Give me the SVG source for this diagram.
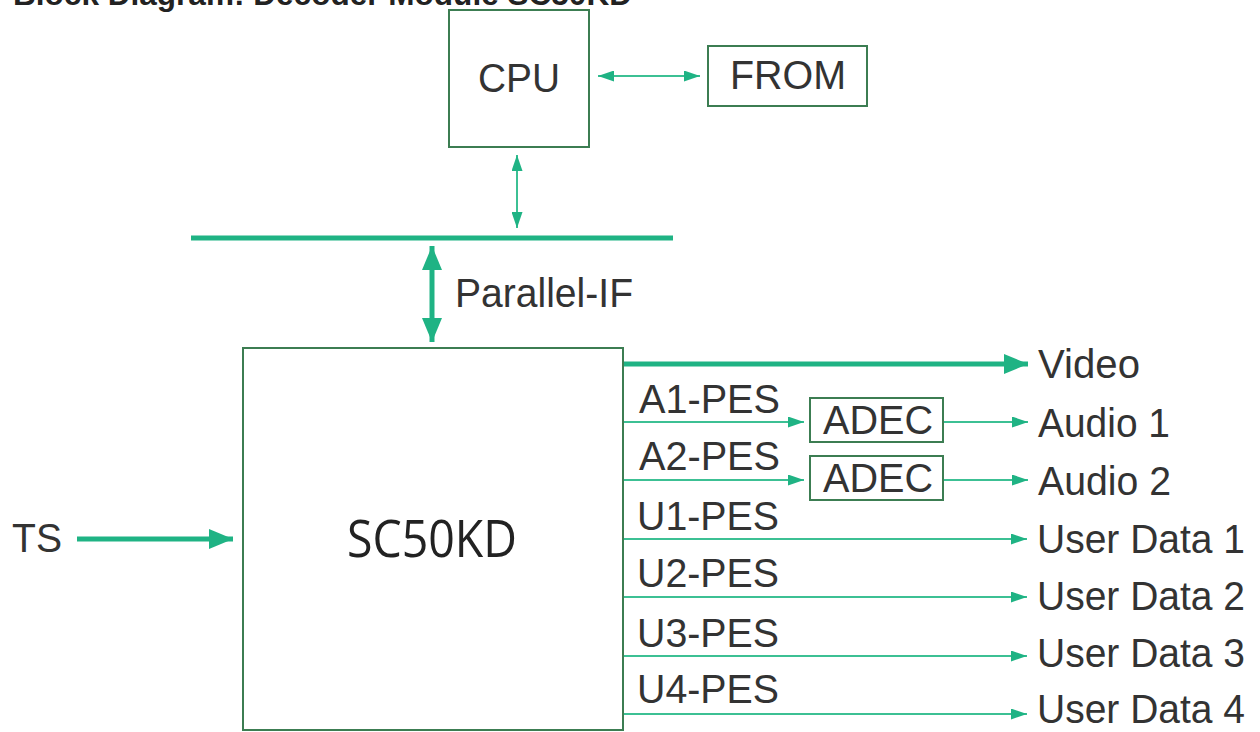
<svg xmlns="http://www.w3.org/2000/svg" width="1260" height="732" viewBox="0 0 1260 732">
<style>
.box{fill:#ffffff;stroke:#3c7d52;stroke-width:2}
.lbl{font-family:"Liberation Sans",Arial,sans-serif;font-size:40px;fill:#333333}
.title{font-family:"Liberation Sans",Arial,sans-serif;font-size:31px;font-weight:bold;fill:#222222}
.thin{stroke:#3cc094;stroke-width:2;fill:none}
.thick{stroke:#1fb384;stroke-width:5;fill:none}
</style>
<defs>
<marker id="hs" markerUnits="userSpaceOnUse" markerWidth="16" markerHeight="11" refX="16" refY="5.5" orient="auto-start-reverse">
<path d="M0,0 L16,5.5 L0,11 z" fill="#1fb384"/>
</marker>
<marker id="hl" markerUnits="userSpaceOnUse" markerWidth="24" markerHeight="20" refX="24" refY="10" orient="auto-start-reverse">
<path d="M0,0 L24,10 L0,20 z" fill="#1fb384"/>
</marker>
</defs>
<rect width="1260" height="732" fill="#ffffff"/>
<text class="title" x="13" y="5" textLength="619" lengthAdjust="spacingAndGlyphs">Block Diagram: Decoder Module SC50KD</text>

<g id="connectors">
<line class="thin" x1="598" y1="76" x2="700" y2="76" marker-start="url(#hs)" marker-end="url(#hs)"/>
<line class="thin" x1="517" y1="155" x2="517" y2="228" marker-start="url(#hs)" marker-end="url(#hs)"/>
<line class="thick" x1="191" y1="238" x2="673" y2="238"/>
<line class="thick" x1="432" y1="246" x2="432" y2="342" marker-start="url(#hl)" marker-end="url(#hl)"/>
<line class="thick" x1="77" y1="539" x2="233" y2="539" marker-end="url(#hl)"/>
<line class="thick" x1="623" y1="364" x2="1028" y2="364" marker-end="url(#hl)"/>
<line class="thin" x1="623" y1="422" x2="804" y2="422" marker-end="url(#hs)"/>
<line class="thin" x1="623" y1="480" x2="804" y2="480" marker-end="url(#hs)"/>
<line class="thin" x1="943" y1="422" x2="1028" y2="422" marker-end="url(#hs)"/>
<line class="thin" x1="943" y1="480" x2="1028" y2="480" marker-end="url(#hs)"/>
<line class="thin" x1="623" y1="539" x2="1027" y2="539" marker-end="url(#hs)"/>
<line class="thin" x1="623" y1="597" x2="1027" y2="597" marker-end="url(#hs)"/>
<line class="thin" x1="623" y1="656" x2="1027" y2="656" marker-end="url(#hs)"/>
<line class="thin" x1="623" y1="714" x2="1027" y2="714" marker-end="url(#hs)"/>
</g>

<g id="cpu">
<rect class="box" x="449" y="10" width="140" height="137"/>
<text class="lbl" x="478" y="92" textLength="82" lengthAdjust="spacingAndGlyphs">CPU</text>
</g>
<g id="from">
<rect class="box" x="708" y="46" width="159" height="60"/>
<text class="lbl" x="730" y="89" textLength="116" lengthAdjust="spacingAndGlyphs">FROM</text>
</g>
<g id="sc50kd">
<rect class="box" x="243" y="348" width="380" height="382"/>
<text x="347" y="557" textLength="170" lengthAdjust="spacingAndGlyphs" style="font-family:'Open Sans','Noto Sans',sans-serif;font-size:51px;fill:#222222">SC50KD</text>
</g>
<g id="adec1">
<rect class="box" x="810" y="398" width="133" height="44"/>
<text class="lbl" x="823" y="434" textLength="110" lengthAdjust="spacingAndGlyphs">ADEC</text>
</g>
<g id="adec2">
<rect class="box" x="810" y="456" width="133" height="44"/>
<text class="lbl" x="823" y="492" textLength="110" lengthAdjust="spacingAndGlyphs">ADEC</text>
</g>

<g id="labels">
<text class="lbl" x="455" y="307" textLength="178" lengthAdjust="spacingAndGlyphs">Parallel-IF</text>
<text class="lbl" x="12" y="552" textLength="50" lengthAdjust="spacingAndGlyphs">TS</text>
<text class="lbl" x="1038" y="378" textLength="102" lengthAdjust="spacingAndGlyphs">Video</text>
<text class="lbl" x="1038" y="437" textLength="132" lengthAdjust="spacingAndGlyphs">Audio 1</text>
<text class="lbl" x="1038" y="495" textLength="133" lengthAdjust="spacingAndGlyphs">Audio 2</text>
<text class="lbl" x="639" y="413" textLength="141" lengthAdjust="spacingAndGlyphs">A1-PES</text>
<text class="lbl" x="639" y="470" textLength="141" lengthAdjust="spacingAndGlyphs">A2-PES</text>
<text class="lbl" x="637" y="530" textLength="142" lengthAdjust="spacingAndGlyphs">U1-PES</text>
<text class="lbl" x="637" y="587" textLength="142" lengthAdjust="spacingAndGlyphs">U2-PES</text>
<text class="lbl" x="637" y="647" textLength="142" lengthAdjust="spacingAndGlyphs">U3-PES</text>
<text class="lbl" x="637" y="703" textLength="142" lengthAdjust="spacingAndGlyphs">U4-PES</text>
<text class="lbl" x="1037" y="553" textLength="208" lengthAdjust="spacingAndGlyphs">User Data 1</text>
<text class="lbl" x="1037" y="610" textLength="208" lengthAdjust="spacingAndGlyphs">User Data 2</text>
<text class="lbl" x="1037" y="667" textLength="208" lengthAdjust="spacingAndGlyphs">User Data 3</text>
<text class="lbl" x="1037" y="723" textLength="208" lengthAdjust="spacingAndGlyphs">User Data 4</text>
</g>
</svg>
